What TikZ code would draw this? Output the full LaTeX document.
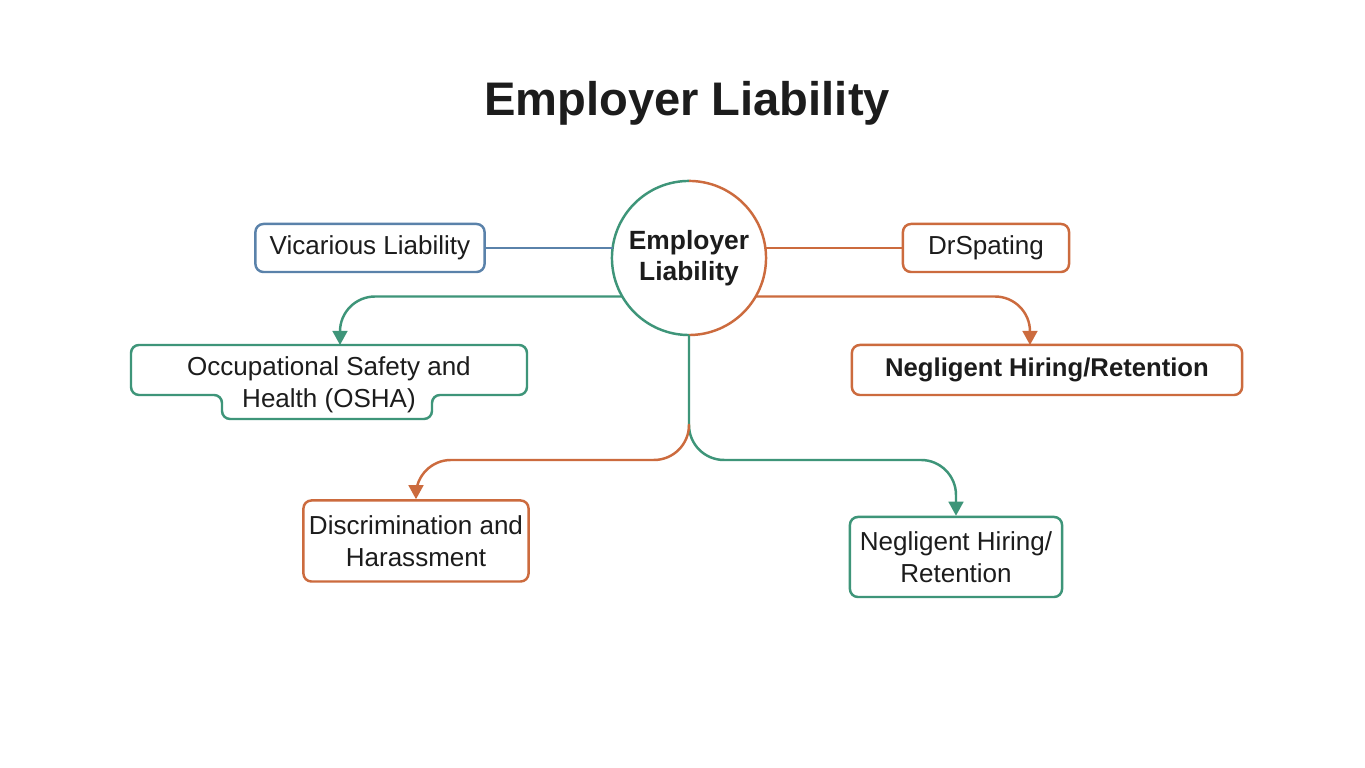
\documentclass[tikz,border=0pt]{standalone}
\usepackage{fontspec}
\setmainfont{Liberation Sans}
\usetikzlibrary{arrows.meta}
\definecolor{grn}{HTML}{3E9579}
\definecolor{org}{HTML}{CC6B3E}
\definecolor{blu}{HTML}{5A82AA}
\definecolor{ink}{HTML}{1C1C1C}

\begin{document}
\begin{tikzpicture}[x=0.01cm,y=-0.01cm,line width=0.7pt,
        box/.style={draw,fill=white,rounded corners=0.08cm,align=center,text=ink,inner sep=0pt,
            font=\fontsize{7.4}{9.2}\selectfont},
        tip/.style={-{Triangle[width=4.2pt,length=4pt]},rounded corners=0.35cm}]
            \fill[white] (0,0) rectangle (1365,768);
            \useasboundingbox (0,0) rectangle (1365,768);

            \node[text=ink,font=\fontsize{13.4}{16}\selectfont\bfseries] (title) at (687,103) {Employer Liability};

            \node[circle,minimum size=1.54cm,inner sep=0pt,outer sep=0pt,align=center,text=ink,
                font=\fontsize{7.5}{8.8}\selectfont\bfseries] (emp) at (689,258) {Employer\\Liability};
            \draw[grn] (emp.north) arc[start angle=90,end angle=270,radius=0.77cm];
            \draw[org] (emp.south) arc[start angle=-90,end angle=90,radius=0.77cm];

            \node[box,draw=blu,minimum width=2.29cm,minimum height=0.48cm] (vic) at (370,248) {Vicarious Liability};
            \node[box,draw=org,minimum width=1.66cm,minimum height=0.48cm] (drs) at (986,248) {DrSpating};
            \node[box,draw=org,minimum width=3.90cm,minimum height=0.50cm,font=\fontsize{7.3}{9.2}\selectfont\bfseries] (neg1) at (1047,370) {Negligent Hiring/Retention};
            \node[box,draw=org,minimum width=2.25cm,minimum height=0.81cm] (dis) at (416,541) {Discrimination and\\Harassment};
            \node[box,draw=grn,minimum width=2.12cm,minimum height=0.80cm] (neg2) at (956,557) {Negligent Hiring/\\Retention};

            % the osha box has a narrower lower step
            \draw[grn,fill=white,rounded corners=0.08cm] (131,345) -- (527,345) -- (527,395) -- (432,395)
                -- (432,419) -- (222,419) -- (222,395) -- (131,395) -- cycle;
            \node[align=center,text=ink,inner sep=0pt,font=\fontsize{7.4}{9.2}\selectfont] (osha) at (329,385) {Occupational Safety and\\Health (OSHA)};

            \coordinate (oshain) at (340,345);
            \coordinate (neg1in) at (1030,345);
            \coordinate (split) at (689,424);

            \draw[blu] (vic.east) -- ([xshift=0.01cm]vic.east -| emp.west);
            \draw[org] ([xshift=-0.01cm]drs.west -| emp.east) -- (drs.west);
            \draw[grn,tip] (emp.210) -| (oshain);
            \draw[org,tip] (emp.330) -| (neg1in);
            \draw[grn,tip] (emp.south) -- (689,460) -| (neg2.north);
            \draw[org,tip] (split) -- (689,460) -| (dis.north);
        \end{tikzpicture}
\end{document}
